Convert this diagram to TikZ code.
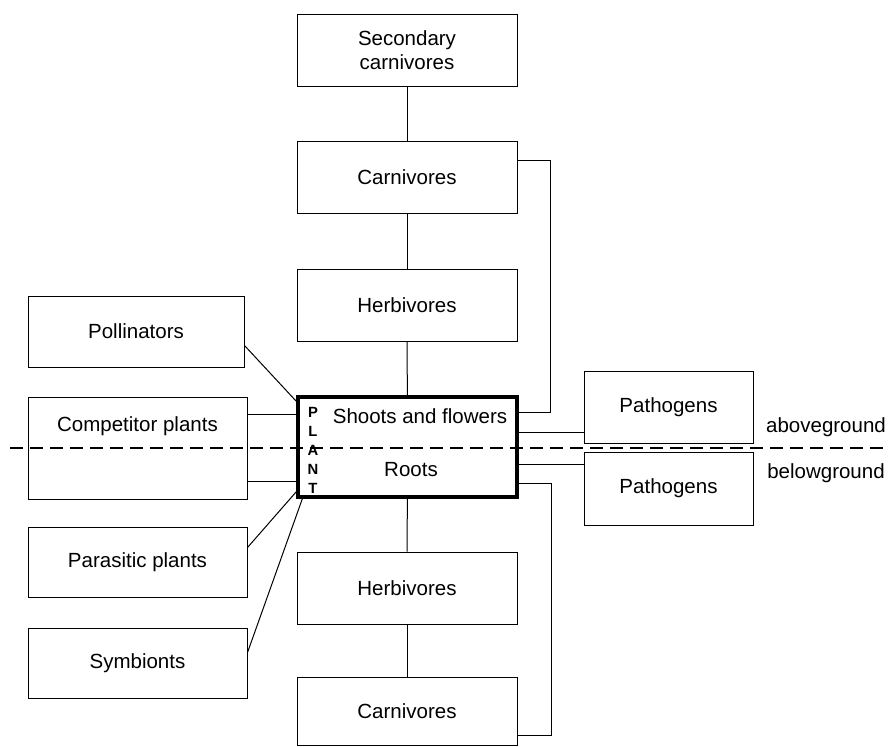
\documentclass[tikz,border=0pt]{standalone}
\usepackage{fontspec}
\setmainfont{Liberation Sans}
\usetikzlibrary{calc}

\begin{document}
\begin{tikzpicture}[x=0.5pt, y=-0.5pt,
  every node/.style={font=\fontsize{10.25}{12}\selectfont},
  box/.style={draw, line width=0.5pt, inner sep=0pt, minimum width=110pt, minimum height=36pt, align=center},
  plantbox/.style={draw, line width=1.6pt, inner sep=0pt, minimum width=109.5pt, minimum height=50pt},
  link/.style={line width=0.5pt},
  letter/.style={font=\fontsize{7.4}{8}\bfseries\selectfont, inner sep=0pt}]

\useasboundingbox (0,0) rectangle (889,746);

% food chain, aboveground and belowground
\node[box] (sec) at (407,50) {Secondary\\carnivores};
\node[box] (carnA) at (407,177) {Carnivores};
\node[box] (herbA) at (407,305) {Herbivores};
\node[plantbox] (plant) at (407.5,447) {};
\node[box] (herbB) at (407,588) {Herbivores};
\node[box, minimum height=34pt] (carnB) at (407,711) {Carnivores};

% left side
\node[box, minimum width=108pt, minimum height=35.5pt] (poll) at (136,331.5) {Pollinators};
\node[box, minimum width=109.5pt, minimum height=51pt] (comp) at (137.5,448) {};
\node (comptext) at (137.5,426) {Competitor plants};
\node[box, minimum width=109.5pt, minimum height=35pt] (para) at (137.5,562) {Parasitic plants};
\node[box, minimum width=109.5pt, minimum height=35pt] (symb) at (137.5,663) {Symbionts};

% right side
\node[box, minimum width=84.5pt] (pathA) at (668.5,407) {Pathogens};
\node[box, minimum width=84.5pt, minimum height=36.5pt] (pathB) at (668.5,488.5) {Pathogens};
\node (above) at (826,427) {aboveground};
\node (below) at (826,473) {belowground};

% inside the plant
\node (shoots) at (420,416) {Shoots and flowers};
\node (roots) at (411,470) {Roots};
\foreach \l [count=\i] in {P,L,A,N,T}
  \node[letter] (l\i) at (313,393+19*\i) {\l};

% soil line
\coordinate (dl) at (10,448);
\coordinate (dr) at (889,448);
\draw[line width=0.9pt, dash pattern=on 6.5pt off 3.5pt] (dl) -- (dr);

% vertical links
\draw[link] (sec) -- (carnA);
\draw[link] (carnA) -- (herbA);
\draw[link] (herbA) -- (plant);
\draw[link] (plant) -- (herbB);
\draw[link] (herbB) -- (carnB);

% carnivores back to the plant
\draw[link] ($(carnA.north east)+(0,20)$) -- ++(33,0) |- ($(plant.north east)+(0,17)$);
\draw[link] ($(plant.south east)+(0,-15)$) -- ++(33,0) |- ($(carnB.south east)+(0,-10)$);

% pathogens
\draw[link] ($(pathA.south west)+(0,-11)$) coordinate (pa) -- (pa -| plant.east);
\draw[link] ($(pathB.north west)+(0,13)$) coordinate (pb) -- (pb -| plant.east);

% partners on the left
\draw[link] ($(poll.south east)+(0,-22)$) -- ($(plant.north west)+(0,6)$);
\draw[link] ($(comp.north east)+(0,18)$) coordinate (ca) -- (ca -| plant.west);
\draw[link] ($(comp.south east)+(0,-18)$) coordinate (cb) -- (cb -| plant.west);
\draw[link] ($(para.north east)+(0,21)$) -- ($(plant.south west)+(0,-7)$);
\draw[link] ($(symb.north east)+(0,25)$) -- ($(plant.south west)+(6,0)$);

\end{tikzpicture}
\end{document}
